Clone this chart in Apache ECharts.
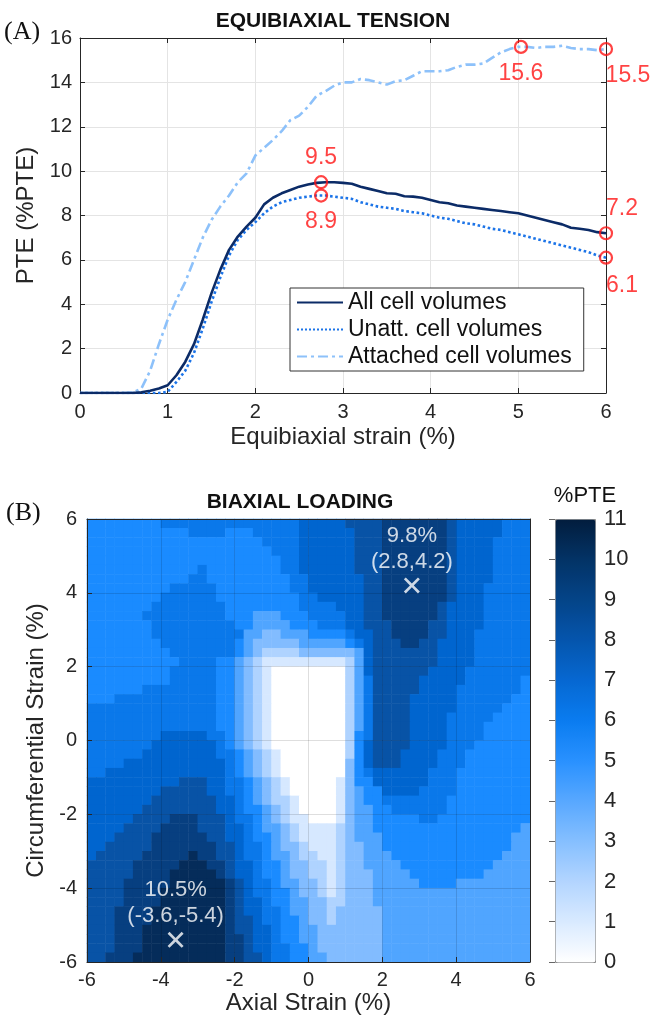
<!DOCTYPE html>
<html>
<head>
<meta charset="utf-8">
<script src="https://cdn.jsdelivr.net/npm/echarts@6.0.0/dist/echarts.min.js"></script>
<style>
  body { margin: 0; padding: 0; background: #fff; }
  #main { width: 654px; height: 1018px; }
</style>
</head>
<body>
<div id="main"></div>
<script>
// ---------- panel A : PTE vs equibiaxial strain ----------
var strain = [0,0.1,0.2,0.3,0.4,0.5,0.6,0.7,0.8,0.9,
  1,1.1,1.2,1.3,1.4,1.5,1.6,1.7,1.8,1.9,
  2,2.1,2.2,2.3,2.4,2.5,2.6,2.7,2.8,2.9,
  3,3.1,3.2,3.3,3.4,3.5,3.6,3.7,3.8,3.9,
  4,4.1,4.2,4.3,4.4,4.5,4.6,4.7,4.8,4.9,
  5,5.1,5.2,5.3,5.4,5.5,5.6,5.7,5.8,5.9,6];

var pteAll = [0,0,0,0,0,0,0,0.03,0.1,0.2,
  0.35,0.8,1.4,2.2,3.3,4.5,5.55,6.45,7.05,7.5,
  7.9,8.5,8.8,9.0,9.15,9.3,9.4,9.47,9.5,9.5,
  9.47,9.43,9.3,9.2,9.1,9.0,8.98,8.87,8.85,8.8,
  8.7,8.6,8.55,8.45,8.4,8.35,8.3,8.25,8.2,8.15,
  8.1,8.0,7.9,7.8,7.7,7.6,7.45,7.4,7.35,7.25,7.2];

var pteUnatt = [0,0,0,0,0,0,0,0,0,0,
  0.05,0.5,1.0,1.8,2.9,4.1,5.2,6.2,6.9,7.35,
  7.7,8.1,8.4,8.6,8.7,8.8,8.85,8.9,8.9,8.85,
  8.8,8.75,8.6,8.5,8.4,8.35,8.3,8.2,8.15,8.1,
  8.0,7.9,7.85,7.75,7.65,7.6,7.5,7.4,7.35,7.25,
  7.15,7.05,6.95,6.85,6.75,6.65,6.55,6.45,6.35,6.2,6.1];

var pteAttached = [0,0,0,0,0,0,0.02,0.2,1.0,2.2,
  3.3,4.2,5.0,6.0,7.0,7.8,8.4,8.9,9.5,9.9,
  10.7,11.05,11.4,11.8,12.3,12.5,12.9,13.4,13.6,13.85,
  14.0,14.0,14.15,14.1,14.0,13.9,14.05,14.1,14.3,14.5,
  14.5,14.5,14.55,14.7,14.8,14.8,14.85,15.1,15.35,15.5,
  15.6,15.6,15.55,15.6,15.6,15.65,15.55,15.5,15.5,15.45,15.5];

// circled values
var peakX = [2.75, 2.75, 5.03, 6, 6, 6];
var peakY = [9.5, 8.9, 15.6, 15.5, 7.2, 6.1];
var peakLabelPos = ['top', 'bottom', 'bottom', 'bottom', 'top', 'bottom'];
var peakLabelShift = [[0, 0], [0, 2], [0, 2], [22, 2], [16, 0], [16, 3]];

// ---------- panel B : %PTE map, 48 x 48 cells (0.25% steps) ----------
// each row = (contour level, run length) pairs, top row (circ. 6%) first
var levelRows = [
  [5,8, 6,15, 7,5, 8,4, 9,7, 8,1, 7,5, 6,3],
  [5,11, 6,4, 5,3, 6,5, 7,6, 8,3, 9,7, 8,1, 7,5, 6,3],
  [5,19, 6,4, 7,6, 8,3, 9,7, 8,1, 7,4, 6,4],
  [5,20, 6,3, 7,6, 8,3, 9,7, 8,1, 7,4, 6,4],
  [5,21, 6,2, 7,6, 8,3, 9,7, 8,1, 7,4, 6,4],
  [5,12, 6,1, 5,8, 6,2, 7,6, 8,3, 9,7, 8,1, 7,4, 6,4],
  [5,11, 6,2, 5,9, 6,2, 7,6, 8,2, 9,7, 8,1, 7,4, 6,4],
  [5,9, 6,5, 5,8, 6,2, 7,6, 8,2, 9,7, 8,1, 7,3, 6,5],
  [5,8, 6,6, 5,9, 6,2, 7,5, 8,2, 9,7, 8,1, 7,3, 6,5],
  [5,7, 6,8, 5,8, 6,4, 7,3, 8,2, 9,6, 8,1, 7,4, 6,5],
  [5,6, 6,9, 5,3, 4,3, 5,3, 6,4, 7,2, 8,2, 9,6, 8,1, 7,4, 6,5],
  [5,7, 6,9, 5,2, 4,4, 5,3, 6,3, 7,2, 8,3, 9,4, 8,2, 7,4, 6,5],
  [5,7, 6,10, 4,2, 3,2, 4,3, 5,4, 6,1, 7,2, 8,2, 9,4, 8,2, 7,3, 6,6],
  [5,8, 6,8, 5,1, 4,1, 3,5, 4,5, 5,1, 6,1, 7,1, 8,3, 9,2, 8,2, 7,4, 6,6],
  [5,9, 6,7, 5,1, 4,1, 3,1, 2,4, 3,6, 4,1, 7,1, 8,7, 7,4, 6,6],
  [5,10, 6,4, 5,2, 4,1, 3,1, 2,1, 1,9, 2,1, 4,1, 7,1, 8,7, 7,4, 6,6],
  [5,9, 6,5, 5,2, 4,1, 3,1, 2,1, 1,1, 0,8, 2,1, 4,1, 7,1, 8,6, 7,4, 6,7],
  [5,9, 6,5, 5,2, 4,1, 3,1, 2,1, 1,1, 0,8, 2,1, 4,1, 6,1, 8,5, 7,5, 6,6, 5,1],
  [5,6, 6,8, 5,2, 4,1, 3,1, 2,1, 1,1, 0,8, 2,1, 4,1, 6,1, 8,5, 7,4, 6,7, 5,1],
  [5,3, 6,11, 5,2, 4,1, 3,1, 2,1, 1,1, 0,8, 2,1, 4,1, 6,1, 8,4, 7,5, 6,6, 5,2],
  [6,14, 5,2, 4,1, 3,1, 2,1, 1,1, 0,8, 2,1, 4,1, 6,1, 8,4, 7,5, 6,5, 5,3],
  [6,14, 5,2, 4,1, 3,1, 2,1, 1,1, 0,8, 2,1, 4,1, 6,1, 8,4, 7,4, 6,5, 5,4],
  [6,14, 5,2, 4,1, 3,1, 2,1, 1,1, 0,8, 2,1, 4,1, 6,1, 8,4, 7,4, 6,4, 5,5],
  [6,8, 7,5, 6,2, 5,1, 4,1, 3,1, 2,1, 1,1, 0,8, 2,1, 5,1, 6,1, 8,4, 7,4, 6,4, 5,5],
  [6,7, 7,7, 6,1, 5,1, 4,1, 3,1, 2,1, 1,1, 0,8, 2,1, 5,1, 7,1, 8,4, 7,4, 6,3, 5,6],
  [6,6, 7,8, 6,2, 5,1, 4,1, 3,1, 2,1, 1,1, 0,7, 2,1, 5,1, 7,1, 8,3, 7,4, 6,3, 5,7],
  [6,4, 7,11, 6,1, 5,1, 4,1, 3,1, 2,1, 1,1, 0,7, 3,1, 5,1, 7,1, 8,3, 7,4, 6,3, 5,7],
  [6,2, 7,13, 6,1, 5,1, 4,1, 3,1, 2,1, 1,1, 0,7, 3,1, 5,1, 6,1, 7,6, 6,3, 5,8],
  [7,10, 8,3, 7,2, 6,2, 5,1, 4,1, 3,1, 2,1, 1,1, 0,5, 1,1, 3,1, 5,2, 7,6, 6,3, 5,8],
  [7,8, 8,5, 7,2, 6,2, 5,1, 4,1, 3,1, 2,1, 1,1, 0,5, 1,1, 3,1, 4,1, 5,2, 7,4, 6,4, 5,8],
  [7,7, 8,7, 7,2, 6,1, 5,1, 4,1, 3,1, 2,2, 1,1, 0,4, 1,1, 3,1, 4,1, 5,2, 6,7, 5,9],
  [7,6, 8,8, 7,2, 6,1, 5,2, 4,1, 3,1, 2,1, 1,1, 0,4, 1,1, 3,1, 4,2, 5,2, 6,6, 5,9],
  [7,5, 8,4, 9,3, 8,3, 7,1, 6,2, 5,1, 4,1, 3,1, 2,1, 1,2, 0,3, 1,1, 3,1, 4,2, 5,5, 6,2, 5,10],
  [7,4, 8,4, 9,4, 8,3, 7,2, 6,1, 5,1, 4,2, 3,1, 2,1, 1,4, 2,1, 3,1, 4,2, 5,16, 4,1],
  [7,3, 8,4, 9,6, 8,2, 7,2, 6,1, 5,2, 4,1, 3,1, 2,1, 1,4, 2,1, 3,1, 4,3, 5,14, 4,2],
  [7,2, 8,5, 9,7, 8,2, 7,1, 6,2, 5,1, 4,1, 3,2, 2,1, 1,3, 2,1, 3,2, 4,2, 5,14, 4,2],
  [7,1, 8,5, 9,5, 10,1, 9,2, 8,2, 7,1, 6,2, 5,1, 4,2, 3,1, 2,2, 1,2, 2,1, 3,2, 4,3, 5,12, 4,3],
  [8,5, 9,5, 10,3, 9,2, 8,1, 7,2, 6,1, 5,2, 4,1, 3,2, 2,2, 1,1, 2,1, 3,2, 4,4, 5,10, 4,4],
  [8,5, 9,4, 10,5, 9,1, 8,1, 7,2, 6,1, 5,2, 4,1, 3,2, 2,2, 1,1, 2,1, 3,3, 4,4, 5,8, 4,5],
  [8,4, 9,5, 10,6, 9,1, 8,1, 7,1, 6,2, 5,1, 4,2, 3,2, 2,1, 1,1, 2,1, 3,3, 4,5, 5,4, 4,8],
  [8,4, 9,4, 10,7, 9,1, 8,1, 7,1, 6,2, 5,2, 4,1, 3,2, 2,1, 1,1, 2,1, 3,3, 4,17],
  [8,4, 9,4, 10,7, 9,1, 8,1, 7,2, 6,1, 5,2, 4,2, 3,2, 2,2, 3,3, 4,17],
  [8,3, 9,4, 10,8, 9,1, 8,1, 7,2, 6,2, 5,1, 4,2, 3,2, 2,1, 3,5, 4,16],
  [8,3, 9,4, 10,8, 9,1, 8,2, 7,1, 6,2, 5,2, 4,1, 3,2, 2,1, 3,5, 4,16],
  [8,3, 9,3, 10,9, 9,1, 8,2, 7,2, 6,1, 5,2, 4,2, 3,7, 4,16],
  [8,3, 9,3, 10,9, 9,2, 8,1, 7,2, 6,1, 5,2, 4,2, 3,7, 4,16],
  [8,3, 9,3, 10,9, 9,2, 8,1, 7,2, 6,2, 5,2, 4,1, 3,7, 4,16],
  [8,2, 9,3, 10,10, 9,2, 8,2, 7,1, 6,2, 5,2, 4,2, 3,6, 4,16]
];

// marked maxima
var maxX = [2.8, -3.6];
var maxY = [4.2, -5.4];
var maxPte = [9.8, 10.5];

var levelColors = ['#ffffff', '#d6e8ff', '#afd3ff', '#82bcff', '#50a5ff', '#1a8bff',
  '#0a78ea', '#0065cf', '#0853a6', '#073f80', '#052c5a'];
var barColors = ['#ffffff', '#d9eaff', '#b3d5ff', '#86bfff', '#58a8ff', '#2991ff',
  '#0a7cf0', '#0668d2', '#0555ad', '#044488', '#033366', '#021d3d'];
var red = '#ff1414';

var nCells = 48;
var cellIdx = [];
for (var i = 0; i < nCells; i++) cellIdx.push(i);

var heatData = [];
levelRows.forEach(function (row, r) {
  var col = 0;
  for (var k = 0; k < row.length; k += 2) {
    for (var n = 0; n < row[k + 1]; n++) {
      heatData.push([col, levelRows.length - 1 - r, row[k] + 0.5]);
      col++;
    }
  }
  if (col !== nCells) console.warn('row ' + r + ' has ' + col + ' cells');
});

var sans = "'Liberation Sans', Arial, Helvetica, sans-serif";
var ink = '#262626';

function valueAxis(extra) {
  var base = {
    type: 'value',
    axisLine: { show: true, onZero: false, lineStyle: { color: ink, width: 1 } },
    axisTick: { show: true, inside: true, length: 5, lineStyle: { color: ink } },
    axisLabel: { fontSize: 20, color: ink, fontFamily: sans },
    splitLine: { show: false },
    nameLocation: 'middle',
    nameTextStyle: { fontSize: 24, color: ink, fontFamily: sans }
  };
  return Object.assign(base, extra);
}

var main = document.getElementById('main');
var myChart = echarts.init(main, null, { renderer: 'canvas' });

var option = {
  animation: false,
  backgroundColor: '#fff',
  grid: [
    { left: 80, top: 38, width: 526, height: 355, outerBoundsMode: 'none' },
    { left: 87, top: 519, width: 443, height: 443, outerBoundsMode: 'none' },
    { left: 555, top: 519, width: 40, height: 443, outerBoundsMode: 'none' }
  ],
  xAxis: [
    valueAxis({ gridIndex: 0, min: 0, max: 6, interval: 1, position: 'bottom',
      name: 'Equibiaxial strain (%)', nameGap: 32,
      axisLabel: { fontSize: 20, color: ink, fontFamily: sans, margin: 9 },
      splitLine: { show: true, lineStyle: { color: '#e4e4e4' } } }),
    valueAxis({ gridIndex: 0, min: 0, max: 6, interval: 1, position: 'top',
      axisLabel: { show: false } }),
    valueAxis({ gridIndex: 1, min: -6, max: 6, interval: 2, position: 'bottom',
      name: 'Axial Strain (%)', nameGap: 29, z: 5,
      axisLabel: { fontSize: 20, color: ink, fontFamily: sans, margin: 8 },
      splitLine: { show: true, lineStyle: { color: 'rgba(0,0,0,0.13)' } } }),
    { gridIndex: 1, type: 'category', data: cellIdx, position: 'top', z: 5,
      axisLine: { show: true, onZero: false, lineStyle: { color: ink } },
      axisTick: { show: false }, axisLabel: { show: false }, splitLine: { show: false } },
    { gridIndex: 2, type: 'value', show: false }
  ],
  yAxis: [
    valueAxis({ gridIndex: 0, min: 0, max: 16, interval: 2, position: 'left',
      name: 'PTE (%PTE)', nameGap: 39,
      axisLabel: { fontSize: 20, color: ink, fontFamily: sans, margin: 8 },
      splitLine: { show: true, lineStyle: { color: '#e4e4e4' } } }),
    valueAxis({ gridIndex: 0, min: 0, max: 16, interval: 2, position: 'right',
      axisLabel: { show: false } }),
    valueAxis({ gridIndex: 1, min: -6, max: 6, interval: 2, position: 'left',
      name: 'Circumferential Strain (%)', nameGap: 38, z: 5,
      axisLabel: { fontSize: 20, color: ink, fontFamily: sans, margin: 10 },
      splitLine: { show: true, lineStyle: { color: 'rgba(0,0,0,0.13)' } } }),
    { gridIndex: 1, type: 'category', data: cellIdx, position: 'right', z: 5,
      axisLine: { show: true, onZero: false, lineStyle: { color: ink } },
      axisTick: { show: false }, axisLabel: { show: false }, splitLine: { show: false } },
    { gridIndex: 2, type: 'value', min: 0, max: 11, interval: 1, position: 'right', z: 10,
      axisLine: { show: false },
      axisTick: { show: true, inside: true, length: 6, lineStyle: { color: '#666' } },
      axisLabel: { fontSize: 22, color: ink, fontFamily: sans, margin: 9 },
      splitLine: { show: false } }
  ],
  legend: {
    data: ['All cell volumes', 'Unatt. cell volumes', 'Attached cell volumes'],
    orient: 'vertical', left: 290, top: 288,
    itemWidth: 46, itemHeight: 12, itemGap: 4,
    padding: [3, 12, 3, 6],
    borderColor: '#333', borderWidth: 1, backgroundColor: '#fff',
    selectedMode: false,
    itemStyle: { opacity: 0 },
    textStyle: { fontSize: 23, color: '#111', fontFamily: sans }
  },
  visualMap: [
    { type: 'piecewise', show: false, seriesIndex: 4, dimension: 2,
      pieces: levelColors.map(function (c, i) { return { gte: i, lt: i + 1, color: c }; }) },
    { type: 'continuous', show: true, seriesIndex: 6, min: 0, max: 11,
      calculable: false, hoverLink: false, left: 555, top: 519,
      itemWidth: 40, itemHeight: 443, padding: 0,
      borderColor: '#8c8c8c', borderWidth: 1,
      inRange: { color: barColors } }
  ],
  series: [
    { type: 'line', name: 'All cell volumes', xAxisIndex: 0, yAxisIndex: 0,
      symbol: 'none', z: 4,
      data: strain.map(function (x, i) { return [x, pteAll[i]]; }),
      itemStyle: { color: '#0b2b67' },
      lineStyle: { color: '#0b2b67', width: 2.6 } },
    { type: 'line', name: 'Unatt. cell volumes', xAxisIndex: 0, yAxisIndex: 0,
      symbol: 'none', z: 3,
      data: strain.map(function (x, i) { return [x, pteUnatt[i]]; }),
      itemStyle: { color: '#1c74e8' },
      lineStyle: { color: '#1c74e8', width: 2.6, type: 'dotted' } },
    { type: 'line', name: 'Attached cell volumes', xAxisIndex: 0, yAxisIndex: 0,
      symbol: 'none', z: 3,
      data: strain.map(function (x, i) { return [x, pteAttached[i]]; }),
      itemStyle: { color: '#8dc1fa' },
      lineStyle: { color: '#8dc1fa', width: 2.6, type: [10, 4, 3, 4] } },
    { type: 'scatter', xAxisIndex: 0, yAxisIndex: 0, z: 6,
      symbol: 'circle', symbolSize: 12,
      itemStyle: { color: 'rgba(0,0,0,0)', borderColor: red, borderWidth: 2.2 },
      label: { show: true, color: red, fontSize: 23, fontFamily: sans, distance: 6,
        formatter: function (p) { return p.value[1].toFixed(1); } },
      data: peakX.map(function (x, i) {
        return { value: [x, peakY[i]],
          label: { position: peakLabelPos[i], offset: peakLabelShift[i] } };
      }) },
    { type: 'heatmap', xAxisIndex: 3, yAxisIndex: 3, data: heatData,
      progressive: 0, emphasis: { disabled: true } },
    { type: 'scatter', xAxisIndex: 2, yAxisIndex: 2, z: 10,
      symbol: 'path://M0,1.2L1.2,0L5,3.8L8.8,0L10,1.2L6.2,5L10,8.8L8.8,10L5,6.2L1.2,10L0,8.8L3.8,5Z',
      symbolSize: 16,
      itemStyle: { color: '#fff' },
      label: { show: true, position: 'top', distance: 3, color: '#fff',
        fontSize: 22, lineHeight: 26, fontFamily: sans,
        formatter: function (p) {
          return p.data.pte + '%\n(' + p.value[0] + ',' + p.value[1] + ')';
        } },
      data: maxX.map(function (x, i) { return { value: [x, maxY[i]], pte: maxPte[i] }; }) },
    { type: 'scatter', xAxisIndex: 4, yAxisIndex: 4, data: [] }
  ],
  graphic: [
    { type: 'text', x: 333, y: 21,
      style: { text: 'EQUIBIAXIAL TENSION', font: 'bold 21px ' + sans, fill: '#111',
        textAlign: 'center', textVerticalAlign: 'middle' } },
    { type: 'text', x: 4, y: 32,
      style: { text: '(A)', font: "26px 'Liberation Serif', 'Times New Roman', serif", fill: '#111',
        textAlign: 'left', textVerticalAlign: 'middle' } },
    { type: 'text', x: 300, y: 502,
      style: { text: 'BIAXIAL LOADING', font: 'bold 21px ' + sans, fill: '#111',
        textAlign: 'center', textVerticalAlign: 'middle' } },
    { type: 'text', x: 6, y: 513,
      style: { text: '(B)', font: "26px 'Liberation Serif', 'Times New Roman', serif", fill: '#111',
        textAlign: 'left', textVerticalAlign: 'middle' } },
    { type: 'text', x: 585, y: 496,
      style: { text: '%PTE', font: '22px ' + sans, fill: '#111',
        textAlign: 'center', textVerticalAlign: 'middle' } }
  ]
};

myChart.setOption(option);
</script>
</body>
</html>
